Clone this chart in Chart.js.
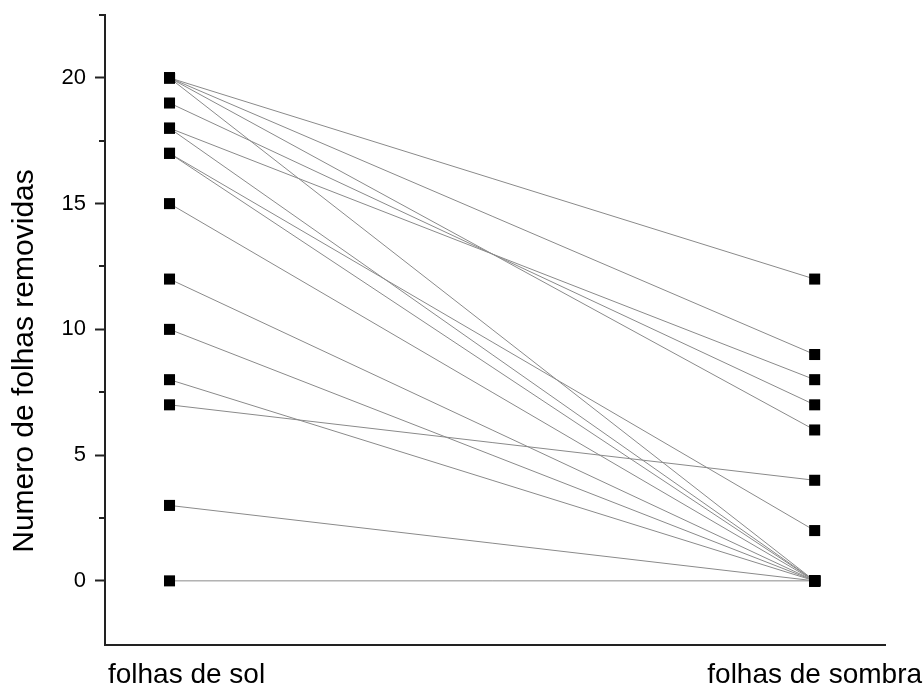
<!DOCTYPE html>
<html>
<head>
<meta charset="utf-8">
<script src="https://cdn.jsdelivr.net/npm/chart.js@4/dist/chart.umd.min.js"></script>
<style>
  body { margin: 0; background: #fff; }
  #wrap { width: 924px; height: 686px; }
</style>
</head>
<body>
<div id="wrap"><canvas id="chart" width="924" height="686"></canvas></div>
<script>
// categories on x
const categories = ['folhas de sol', 'folhas de sombra'];
// each pair: value on sun leaves -> value on shade leaves
const solValues    = [20, 20, 20, 20, 19, 18, 18, 17, 17, 15, 12, 10, 8, 7, 3, 0];
const sombraValues = [12, 9, 6, 0, 7, 8, 0, 2, 0, 0, 0, 0, 0, 4, 0, 0];
const yTicks = [0, 2.5, 5, 7.5, 10, 12.5, 15, 17.5, 20, 22.5];
const yTitle = 'Numero de folhas removidas';

const FONT = '"Liberation Sans", Arial, sans-serif';

const pairLines = solValues.map((s, i) => ({
    type: 'line',
    data: [{ x: 0, y: s }, { x: 1, y: sombraValues[i] }],
    borderColor: '#8a8a8a',
    borderWidth: 1,
    pointRadius: 0,
    order: 2,
}));

const markers = {
    type: 'scatter',
    data: solValues.map(v => ({ x: 0, y: v })).concat(sombraValues.map(v => ({ x: 1, y: v }))),
    pointStyle: 'rect',
    pointRadius: 7.8,
    pointBorderWidth: 0,
    backgroundColor: '#000',
    borderColor: '#000',
    order: 1,
};

// minor ticks, category labels and the axis title drawn by hand
const axisExtras = {
    id: 'axisExtras',
    afterDraw(chart) {
        const ctx = chart.ctx;
        const y = chart.scales.y;
        const x = chart.scales.x;
        ctx.save();
        ctx.strokeStyle = '#222';
        ctx.lineWidth = 2;
        yTicks.forEach(v => {
            if (v % 5 === 0) return;
            const py = Math.round(y.getPixelForValue(v));
            ctx.beginPath();
            ctx.moveTo(x.left - 6, py);
            ctx.lineTo(x.left, py);
            ctx.stroke();
        });
        ctx.fillStyle = '#000';
        ctx.font = '28px ' + FONT;
        ctx.textBaseline = 'alphabetic';
        ctx.textAlign = 'center';
        const shift = [17, 0];
        categories.forEach((c, i) => {
            ctx.fillText(c, x.getPixelForValue(i) + shift[i], chart.chartArea.bottom + 38);
        });
        // y title
        ctx.font = '30px ' + FONT;
        ctx.translate(33, (chart.chartArea.top + chart.chartArea.bottom) / 2 + 31);
        ctx.rotate(-Math.PI / 2);
        ctx.fillText(yTitle, 0, 0);
        ctx.restore();
    }
};

new Chart(document.getElementById('chart'), {
    data: { datasets: pairLines.concat([markers]) },
    options: {
        responsive: false,
        animation: false,
        layout: { padding: { top: 15, right: 39, left: 0, bottom: 0 } },
        plugins: { legend: { display: false }, tooltip: { enabled: false } },
        scales: {
            x: {
                type: 'linear',
                min: -0.1,
                max: 1.109,
                grid: { display: false },
                border: { color: '#222', width: 2 },
                ticks: { display: false },
                afterFit: s => { s.height = 41; },
            },
            y: {
                min: -2.55,
                max: 22.5,
                afterBuildTicks: s => { s.ticks = yTicks.map(v => ({ value: v })); },
                grid: {
                    drawOnChartArea: false,
                    tickLength: 10,
                    tickWidth: 2,
                    tickColor: c => (c.tick && c.tick.value % 5 === 0 ? '#222' : 'rgba(0,0,0,0)'),
                },
                border: { color: '#222', width: 2 },
                ticks: {
                    color: '#000',
                    font: { family: FONT, size: 22 },
                    padding: 9,
                    callback: v => (v % 5 === 0 ? v : ''),
                },
                title: { display: false },
                afterFit: s => { s.width = 105; s.paddingTop = 0; s.paddingBottom = 0; },
            },
        },
    },
    plugins: [axisExtras],
});
</script>
</body>
</html>
